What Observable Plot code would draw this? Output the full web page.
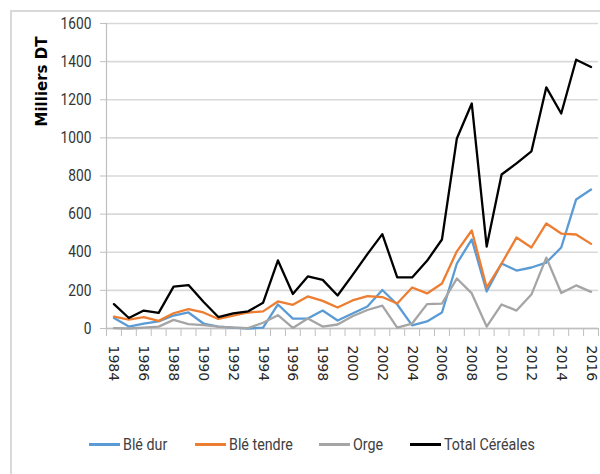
<!DOCTYPE html>
<html>
<head>
<meta charset="utf-8">
<script src="https://cdn.jsdelivr.net/npm/d3@7"></script>
<script src="https://cdn.jsdelivr.net/npm/@observablehq/plot@0.6"></script>
<style>
  html, body { margin: 0; padding: 0; background: #fff; overflow: hidden; }
  #wrap { position: relative; width: 600px; height: 474px; overflow: hidden; }
  #frame { position: absolute; left: 10px; top: 10px; width: 620px; height: 500px; border: 2px solid #d9d9d9; box-sizing: border-box; }
  #chart { position: absolute; left: 0; top: 0; }
  #legend { position: absolute; left: 0; top: 415px; width: 600px; height: 59px; font-family: "Roboto", sans-serif; font-size: 17px; color: #404040; }
  .item { position: absolute; top: 19px; display: flex; align-items: center; white-space: nowrap; }
  .sw { display: inline-block; width: 31px; height: 3px; margin-right: 3px; }
  .lt { display: inline-block; transform: scaleX(0.84); transform-origin: left center; }
</style>
</head>
<body>
<div id="wrap">
  <div id="frame"></div>
  <div id="chart"></div>
  <div id="legend"></div>
</div>
<script>
const years = d3.range(1984, 2017);
const bleDur = [55,10,26,37,68,84,26,10,5,0,5,126,52,52,94,42,79,115,202,126,16,37,84,341,467,194,341,304,320,346,425,677,729];
const bleTendre = [62,47,60,40,80,102,84,50,68,84,90,142,124,168,145,110,147,170,165,131,215,184,236,405,514,215,341,477,425,551,498,493,444];
const orge = [2,0,5,10,45,23,18,10,5,2,30,70,3,52,10,21,64,97,120,5,26,128,131,262,184,10,126,94,178,372,186,226,192];
const totalCereales = [128,55,94,82,220,228,140,60,79,90,135,357,181,273,255,173,280,390,495,268,268,355,467,997,1180,430,808,866,929,1265,1128,1410,1372];
const seriesNames = ["Blé dur", "Blé tendre", "Orge", "Total Céréales"];
const seriesColors = ["#5b9bd5", "#ed7d31", "#a5a5a5", "#000000"];
const yTicks = [0,200,400,600,800,1000,1200,1400,1600];
const xLabelYears = d3.range(1984, 2017, 2);
const yTitle = "Milliers DT";

const allSeries = [bleDur, bleTendre, orge, totalCereales];
const rows = [];
allSeries.forEach((vals, s) => vals.forEach((v, i) => rows.push({year: years[i], value: v, series: seriesNames[s]})));

const boundaries = d3.range(years[0] - 0.5, years[years.length - 1] + 1, 1);

const chart = Plot.plot({
  width: 600,
  height: 415,
  marginLeft: 106,
  marginRight: 2,
  marginTop: 23,
  marginBottom: 87,
  x: {type: "linear", domain: [years[0] - 0.5, years[years.length - 1] + 0.5]},
  y: {domain: [0, 1600]},
  color: {domain: seriesNames, range: seriesColors},
  style: {background: "transparent", overflow: "visible"},
  marks: [
    Plot.gridY(yTicks, {stroke: "#d9d9d9", strokeOpacity: 1, strokeWidth: 1.6}),
    Plot.ruleX([boundaries[0]], {stroke: "#bfbfbf", strokeWidth: 1.2}),
    Plot.ruleY([0], {stroke: "#bfbfbf", strokeWidth: 1.6}),
    Plot.axisY({ticks: yTicks, tickSize: 6, tickPadding: 9, tickFormat: d => String(d), label: null,
      fontSize: 16, fontFamily: "Roboto, sans-serif", fill: "#333", stroke: "#bfbfbf"}),
    Plot.axisX({ticks: boundaries, tickSize: 8, tickFormat: () => "", label: null, stroke: "#bfbfbf"}),
    Plot.axisX({ticks: xLabelYears, tickSize: 0, tickPadding: 17, tickRotate: 90, tickFormat: d => String(d), label: null,
      fontSize: 14, fontFamily: "DejaVu Sans, sans-serif", fill: "#262626"}),
    Plot.lineY(rows, {x: "year", y: "value", z: "series", stroke: "series", strokeWidth: 2.3, strokeLinejoin: "round"}),
    Plot.text([yTitle], {frameAnchor: "top-left", dx: -64, dy: 58, rotate: -90, textAnchor: "middle", lineAnchor: "middle",
      fontSize: 15, fontWeight: "bold", fontFamily: "DejaVu Sans, sans-serif", fill: "#000"})
  ]
});
// condense y tick labels slightly (narrow font look)
chart.querySelectorAll('g[aria-label="y-axis tick label"] text').forEach(t => {
  const tr = t.getAttribute("transform") || "";
  t.setAttribute("transform", tr + " scale(0.86,1)");
});
document.getElementById("chart").appendChild(chart);

const legendLefts = [89, 195, 319, 410];
const legend = document.getElementById("legend");
seriesNames.forEach((name, i) => {
  const item = document.createElement("div");
  item.className = "item";
  item.style.left = legendLefts[i] + "px";
  const sw = document.createElement("span");
  sw.className = "sw";
  sw.style.background = seriesColors[i];
  const t = document.createElement("span");
  t.className = "lt";
  t.textContent = name;
  item.appendChild(sw);
  item.appendChild(t);
  legend.appendChild(item);
});
</script>
</body>
</html>
